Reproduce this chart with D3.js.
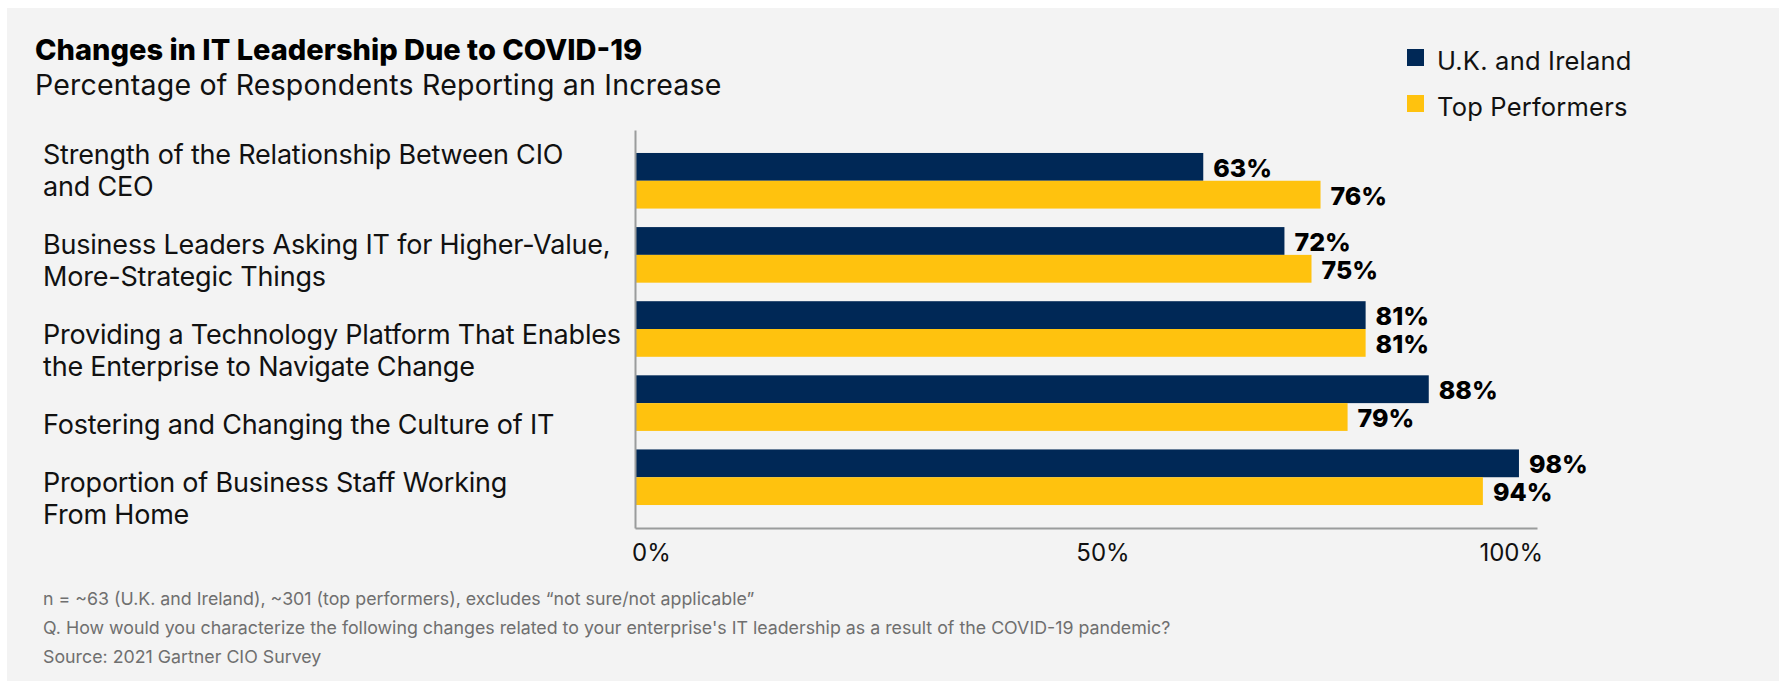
<!DOCTYPE html>
<html>
<head>
<meta charset="utf-8">
<script src="https://cdn.jsdelivr.net/npm/d3@7"></script>
<style>
  html, body { margin: 0; padding: 0; background: #ffffff; }
  svg { display: block; }
  text { font-family: Inter, "Noto Sans", sans-serif; }
</style>
</head>
<body>
<svg id="chart" width="1779" height="681"></svg>
<script>
// ---- Data ----
const categories = [
  "Strength of the Relationship Between CIO and CEO",
  "Business Leaders Asking IT for Higher-Value, More-Strategic Things",
  "Providing a Technology Platform That Enables the Enterprise to Navigate Change",
  "Fostering and Changing the Culture of IT",
  "Proportion of Business Staff Working From Home"
];
const categoryLines = [
  ["Strength of the Relationship Between CIO", "and CEO"],
  ["Business Leaders Asking IT for Higher-Value,", "More-Strategic Things"],
  ["Providing a Technology Platform That Enables", "the Enterprise to Navigate Change"],
  ["Fostering and Changing the Culture of IT"],
  ["Proportion of Business Staff Working", "From Home"]
];
const seriesNames = ["U.K. and Ireland", "Top Performers"];
const ukIreland = [63, 72, 81, 88, 98];
const topPerformers = [76, 75, 81, 79, 94];
const tickValues = [0, 50, 100];
const tickLabels = ["0%", "50%", "100%"];
const title = "Changes in IT Leadership Due to COVID-19";
const subtitle = "Percentage of Respondents Reporting an Increase";
const notes = [
  "n = ~63 (U.K. and Ireland), ~301 (top performers), excludes \u201cnot sure/not applicable\u201d",
  "Q. How would you characterize the following changes related to your enterprise's IT leadership as a result of the COVID-19 pandemic?",
  "Source: 2021 Gartner CIO Survey"
];
const colors = ["#002856", "#FFC20E"];

// ---- Layout ----
const svg = d3.select("#chart");
svg.append("rect").attr("x", 7).attr("y", 8).attr("width", 1779 - 7).attr("height", 681 - 8).attr("fill", "#f3f3f3");

const x = d3.scaleLinear().domain([0, 100]).range([635, 1537]);
const y = d3.scaleBand().domain(categories).range([130, 528]).paddingInner(0.25).paddingOuter(0.31);
const ySub = d3.scaleBand().domain(seriesNames).range([0, y.bandwidth()]);

const rows = categories.map((c, i) => ({ cat: c, values: [ukIreland[i], topPerformers[i]] }));

// Bars
const g = svg.append("g");
const groups = g.selectAll("g.grp").data(rows).join("g").attr("class", "grp")
  .attr("transform", d => `translate(0,${y(d.cat)})`);
groups.selectAll("rect").data(d => d.values.map((v, j) => ({ v, s: seriesNames[j], j })))
  .join("rect")
  .attr("x", x(0))
  .attr("y", d => ySub(d.s))
  .attr("width", d => x(d.v) - x(0))
  .attr("height", ySub.bandwidth())
  .attr("fill", d => colors[d.j]);
groups.selectAll("text").data(d => d.values.map((v, j) => ({ v, s: seriesNames[j], j })))
  .join("text")
  .attr("x", d => x(d.v) + 10)
  .attr("y", d => ySub(d.s) + ySub.bandwidth() / 2 + 1)
  .attr("dominant-baseline", "central")
  .attr("font-size", 25)
  .attr("font-weight", 800)
  .attr("fill", "#000")
  .text(d => d.v + "%");

// Axes
const axisColor = "#9a9c9c";
const yAxis = svg.append("g").attr("transform", `translate(${x(0)},0)`)
  .call(d3.axisLeft(y).tickSize(0).tickFormat(""));
yAxis.select(".domain").attr("stroke", axisColor).attr("stroke-width", 2);
const xAxis = svg.append("g").attr("transform", `translate(0,${y.range()[1]})`)
  .call(d3.axisBottom(x).tickValues(tickValues).tickSize(0).tickFormat(""));
xAxis.select(".domain").attr("stroke", axisColor).attr("stroke-width", 2);
xAxis.selectAll(".tick text").remove();

svg.append("g").selectAll("text").data(tickValues).join("text")
  .attr("x", (d, i) => x(d) + (i === 0 ? -3 : i === tickValues.length - 1 ? 6 : 17))
  .attr("y", y.range()[1] + 24)
  .attr("dominant-baseline", "central")
  .attr("text-anchor", (d, i) => i === 0 ? "start" : i === tickValues.length - 1 ? "end" : "middle")
  .attr("font-size", 24)
  .attr("fill", "#111")
  .text((d, i) => tickLabels[i]);

// Category labels (text flow)
const lineH = 32, paraGap = 26;
let cy = y(categories[0]) + 2;
const lab = svg.append("g");
categoryLines.forEach(lines => {
  lines.forEach(l => {
    lab.append("text").attr("x", 43).attr("y", cy)
      .attr("dominant-baseline", "central")
      .attr("font-size", 27).attr("letter-spacing", -0.2).attr("fill", "#111").text(l);
    cy += lineH;
  });
  cy += paraGap;
});

// Titles
svg.append("text").attr("x", 35).attr("y", 60).attr("font-size", 29).attr("font-weight", 800)
  .attr("fill", "#000").attr("letter-spacing", 0).text(title);
svg.append("text").attr("x", 35).attr("y", 95).attr("font-size", 28.5)
  .attr("fill", "#111").attr("letter-spacing", 0.2).text(subtitle);

// Legend
const leg = svg.append("g").attr("transform", "translate(1407,49)");
seriesNames.forEach((s, i) => {
  leg.append("rect").attr("x", 0).attr("y", i * 46).attr("width", 17).attr("height", 17).attr("fill", colors[i]);
  leg.append("text").attr("x", 30).attr("y", i * 46 + 11).attr("dominant-baseline", "central")
    .attr("font-size", 25.5).attr("letter-spacing", 0.2).attr("fill", "#111").text(s);
});

// Notes
svg.append("g").selectAll("text").data(notes).join("text")
  .attr("x", 43).attr("y", (d, i) => 598 + i * 29)
  .attr("dominant-baseline", "central")
  .attr("font-size", 17.8).attr("fill", "#6f6f6f")
  .attr("font-family", "Roboto, sans-serif")
  .text(d => d);
</script>
</body>
</html>
